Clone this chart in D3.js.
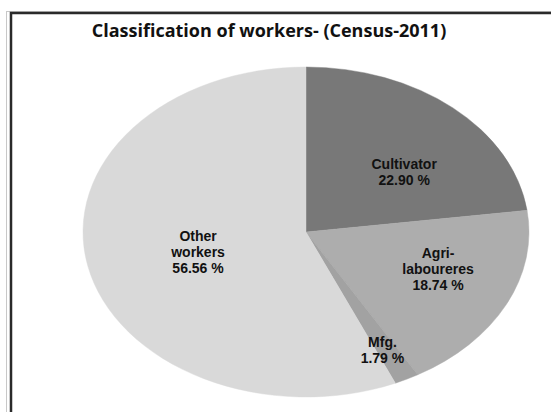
<!DOCTYPE html>
<html>
<head>
<meta charset="utf-8">
<script src="https://cdn.jsdelivr.net/npm/d3@7"></script>
<style>
  html, body { margin: 0; padding: 0; background: #fff; }
  svg { display: block; }
  text { font-family: "Open Sans", "DejaVu Sans", sans-serif; font-weight: 700; fill: #111; }
  text.slice-label { font-family: "Liberation Sans", Arial, sans-serif; }
</style>
</head>
<body>
<svg id="chart" width="551" height="412"></svg>
<script>
const title = 'Classification of workers- (Census-2011)'
const categories = ['Cultivator', 'Agri-laboureres', 'Mfg.', 'Other workers']
const labelLines = [['Cultivator'], ['Agri-', 'laboureres'], ['Mfg.'], ['Other', 'workers']]
const shares = [22.90, 18.74, 1.79, 56.56]

const colors = ['#787878', '#adadad', '#a2a2a2', '#d9d9d9']
// label tweaks (px) on top of the arc centroid
const labelNudge = [[10, 14], [12, -7], [16, 30], [23, 0]]

const svg = d3.select('#chart')
const width = 551
const height = 412

// frame
svg.append('rect')
    .attr('x', 6.5).attr('y', 11.5)
    .attr('width', width).attr('height', height)
    .attr('fill', 'none')
    .attr('stroke', '#c8c8c8')
    .attr('stroke-width', 1)
svg.append('rect')
    .attr('x', 11).attr('y', 13)
    .attr('width', width).attr('height', height)
    .attr('fill', 'none')
    .attr('stroke', '#2a2a2a')
    .attr('stroke-width', 2.5)

svg.append('text')
    .attr('x', 269).attr('y', 37)
    .attr('text-anchor', 'middle')
    .style('font-size', '18px')
    .text(title)

const cx = 306, cy = 232
const rx = 223, ry = 165

const pie = d3.pie().sort(null).value(d => d)
const arcs = pie(shares)
const arc = d3.arc().innerRadius(0).outerRadius(rx)
const labelArc = d3.arc().innerRadius(rx * 0.6).outerRadius(rx * 0.6)

const g = svg.append('g')
    .attr('transform', `translate(${cx},${cy}) scale(1,${ry / rx})`)

g.selectAll('path')
    .data(arcs)
    .enter().append('path')
    .attr('d', arc)
    .attr('fill', (d, i) => colors[i])
    .attr('stroke', (d, i) => colors[i])
    .attr('stroke-width', 0.5)

const lg = svg.append('g').attr('transform', `translate(${cx},${cy})`)
const lineH = 16

arcs.forEach((d, i) => {
    const c = labelArc.centroid(d)
    const lines = labelLines[i].concat([d3.format('.2f')(shares[i]) + ' %'])
    const x = c[0] + labelNudge[i][0]
    const y = c[1] * ry / rx + labelNudge[i][1]
    const t = lg.append('text')
        .attr('class', 'slice-label')
        .attr('text-anchor', 'middle')
        .style('font-size', '14px')
    lines.forEach((s, k) => {
        t.append('tspan')
            .attr('x', x)
            .attr('y', y + (k - (lines.length - 1) / 2) * lineH + 5)
            .text(s)
    })
})
</script>
</body>
</html>
